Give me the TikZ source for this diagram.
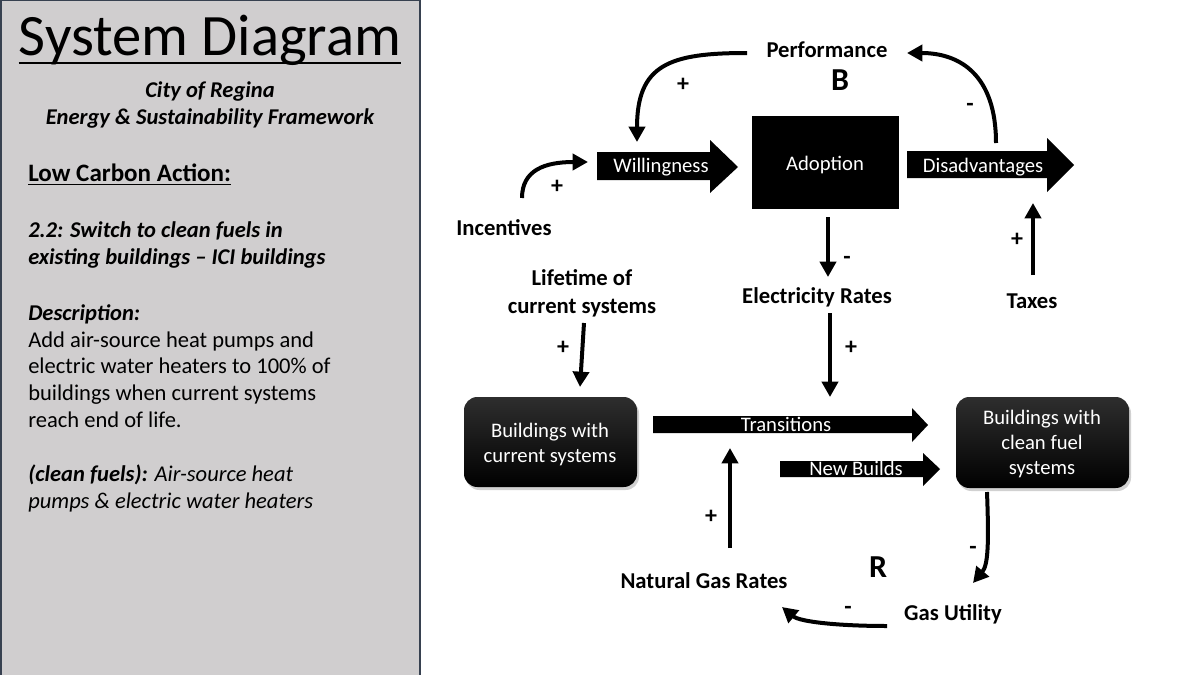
\documentclass[tikz,border=0pt]{standalone}
\usepackage{fontspec}
\setmainfont{Carlito}
\usetikzlibrary{arrows.meta}
\definecolor{panelgray}{RGB}{208,206,207}
\definecolor{panelline}{RGB}{55,65,80}
\begin{document}
\begin{tikzpicture}[x=0.75pt,y=-0.75pt,
  lbl/.style={font=\bfseries\fontsize{17}{21}\selectfont, align=center, inner sep=0pt, anchor=base},
  wtxt/.style={text=white, font=\fontsize{15.5}{18.75}\selectfont, align=center, inner sep=0pt, anchor=base},
  sgn/.style={font=\bfseries\fontsize{18}{20}\selectfont, inner sep=0pt},
  loopl/.style={font=\bfseries\fontsize{24}{26}\selectfont, inner sep=0pt, anchor=base},
  conn/.style={line width=3pt, -{Triangle[length=11.5pt,width=12pt]}},
  blk/.style={fill=black},
  bldg/.style={rounded corners=10pt, top color=black!82, bottom color=black, draw=none, inner sep=0pt},
  ptxt/.style={font=\fontsize{16.9}{20}\selectfont, align=left, inner sep=0pt, anchor=base west},
]
\useasboundingbox (0,0) rectangle (1200,675);
\fill[white] (0,0) rectangle (1200,675);
% left panel
\fill[panelgray] (0,0) rectangle (420,675);
\draw[panelline, line width=1.5pt] (1,0) -- (1,675);
\draw[panelline, line width=1.5pt] (420,0) -- (420,675);
\draw[panelline, line width=1pt] (0,0.5) -- (420,0.5);

\node[font=\fontsize{44}{48}\selectfont, anchor=base, inner sep=0pt] (title) at (210,55) {System Diagram};
\draw[line width=1.6pt] ([yshift=-6pt]title.base west) -- ([yshift=-6pt]title.base east);
\node[font=\bfseries\itshape\fontsize{16.9}{20.25}\selectfont, align=center, anchor=base, inner sep=0pt] (city) at (210,124) {City of Regina\\Energy \& Sustainability Framework};
\node[ptxt, font=\bfseries\fontsize{18.8}{20}\selectfont] (lca) at (28,181) {Low Carbon Action:};
\draw[line width=1pt] ([yshift=-2.5pt]lca.base west) -- ([yshift=-2.5pt]lca.base east);
\node[ptxt, font=\bfseries\itshape\fontsize{16.9}{20}\selectfont] (act) at (28,264) {2.2: Switch to clean fuels in\\existing buildings -- ICI buildings};
\node[ptxt] (desc) at (28,427) {\textbf{\textit{Description:}}\\Add air-source heat pumps and\\electric water heaters to 100\% of\\buildings when current systems\\reach end of life.};
\node[ptxt, font=\itshape\fontsize{16.9}{20}\selectfont] (cf) at (28,508) {\textbf{(clean fuels):} Air-source heat\\pumps \& electric water heaters};

% diagram: boxes and block arrows
\node[fill=black, minimum width=110.25pt, minimum height=69.75pt, inner sep=0pt] (adopt) at (825.5,162.5) {};
\node[wtxt] (adoptt) at (825,170) {Adoption};
\fill[blk] (597,152) -- (710,152) -- (710,140) -- (738,167) -- (710,193) -- (710,180) -- (597,180) -- cycle;
\node[wtxt] (will) at (661,172) {Willingness};
\fill[blk] (907,151) -- (1047,151) -- (1047,138) -- (1074,165) -- (1047,192) -- (1047,178) -- (907,178) -- cycle;
\node[wtxt] (dis) at (983,172) {Disadvantages};
\fill[blk] (653,416) -- (912,416) -- (912,408) -- (928,425) -- (912,442) -- (912,433) -- (653,433) -- cycle;
\node[wtxt] (trans) at (786,431) {Transitions};
\fill[blk] (780,461) -- (923,461) -- (923,453) -- (940,469) -- (923,486) -- (923,477) -- (780,477) -- cycle;
\node[wtxt] (newb) at (856,475) {New Builds};

\fill[black!18, rounded corners=10pt] (466,400) rectangle (639,490);
\node[bldg, minimum width=129.75pt, minimum height=67.5pt] (cur) at (550.5,442) {};
\node[wtxt] (curt) at (550,462) {Buildings with\\current systems};
\fill[black!18, rounded corners=10pt] (958,400) rectangle (1131,491);
\node[bldg, minimum width=129.75pt, minimum height=68.25pt] (clean) at (1042.5,442.5) {};
\node[wtxt] (cleant) at (1042,474) {Buildings with\\clean fuel\\systems};

% labels
\node[lbl] (perf) at (827,57) {Performance};
\node[loopl] (B) at (840,90) {B};
\node[lbl] (inc) at (504,235) {Incentives};
\node[lbl] (life) at (582,313) {Lifetime of\\current systems};
\node[lbl] (elec) at (817,303) {Electricity Rates};
\node[lbl] (taxes) at (1032,308) {Taxes};
\node[lbl] (natgas) at (704,588) {Natural Gas Rates};
\node[lbl] (gas) at (953,620) {Gas Utility};
\node[loopl] (R) at (878,577) {R};

% connector end points
\coordinate (perf-out) at (747,53);
\coordinate (will-in) at (637,142);
\coordinate (dis-out) at (996,143);
\coordinate (perf-in) at (907,53);
\coordinate (inc-out) at (522,198);
\coordinate (will-in2) at (588,162);
\coordinate (adopt-out) at (828,217);
\coordinate (elec-in) at (828,277);
\coordinate (elec-out) at (830,313);
\coordinate (trans-in) at (830,397);
\coordinate (taxes-out) at (1033,275);
\coordinate (dis-in) at (1033,203);
\coordinate (life-out) at (584,323);
\coordinate (cur-in) at (580,387);
\coordinate (natgas-out) at (730,548);
\coordinate (trans-in2) at (730,448);
\coordinate (clean-out) at (987,492);
\coordinate (gas-in) at (973,583);
\coordinate (gas-out) at (887,626);
\coordinate (natgas-in) at (782,607);

% connectors
\draw[conn] (perf-out) to[out=180,in=90,looseness=1.4] (will-in);
\draw[conn] (dis-out) .. controls (996,75) and (960,53) .. (perf-in);
\draw[conn] (inc-out) .. controls (522,170) and (545,162) .. (will-in2);
\draw[conn] (adopt-out) -- (elec-in);
\draw[conn] (elec-out) -- (trans-in);
\draw[conn] (taxes-out) -- (dis-in);
\draw[conn] (life-out) -- (cur-in);
\draw[conn] (natgas-out) -- (trans-in2);
\draw[conn] (clean-out) .. controls (989,545) and (988,565) .. (gas-in);
\draw[conn] (gas-out) .. controls (840,626) and (800,622) .. (natgas-in);

% polarity signs
\node[sgn] (s1) at (683,85) {+};
\node[sgn] (s2) at (970,107) {-};
\node[sgn] (s3) at (557,187) {+};
\node[sgn] (s4) at (847,260) {-};
\node[sgn] (s5) at (1017,240) {+};
\node[sgn] (s6) at (563,348) {+};
\node[sgn] (s7) at (851,348) {+};
\node[sgn] (s8) at (711,517) {+};
\node[sgn] (s9) at (973,550) {-};
\node[sgn] (s10) at (848,610) {-};
\end{tikzpicture}
\end{document}
